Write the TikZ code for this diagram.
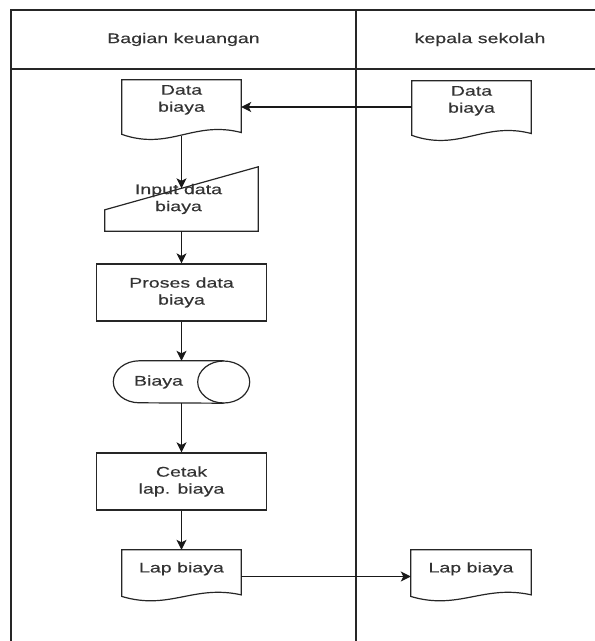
\documentclass[tikz,border=0pt]{standalone}
\usepackage{fontspec}
\setmainfont{Liberation Sans}[FakeStretch=1.4,FakeBold=0.4]
\usetikzlibrary{arrows.meta}

% flowchart document symbol: #1 = node name, #2 = height to lowest point of the wave
\newcommand\docshape[2]{%
  \draw[shapeline] (#1.north west) -- (#1.north east)
    -- ([yshift=-0.85*#2pt]#1.north east)
    .. controls ([xshift=-47.6pt,yshift=-0.65*#2pt]#1.north east)
           and ([xshift=47.6pt,yshift=-1.15*#2pt]#1.north west)
    .. ([yshift=-0.88*#2pt]#1.north west) -- cycle;}

\tikzset{
  shapeline/.style={line width=1.2pt, draw=black!85},
  frameline/.style={line width=1.2pt, draw=black!85},
  box/.style={draw=none, inner sep=0pt},
  lbl/.style={inner sep=0pt, align=center, text=black!80,
    font=\fontsize{14}{17}\selectfont},
  arr/.style={line width=1.3pt, draw=black!90,
    -{Stealth[length=10pt,width=10pt,inset=2.5pt]}},
}

\begin{document}
\begin{tikzpicture}[x=1pt,y=-1pt]
\useasboundingbox (0,0) rectangle (595,641);

% swimlane frame
\coordinate (fnw) at (11,10);
\coordinate (fne) at (610,10);
\coordinate (fsw) at (11,650);
\coordinate (hw) at (11,69);
\coordinate (he) at (610,69);
\coordinate (dt) at (356,10);
\coordinate (db) at (356,650);
\draw[frameline] (fsw) -- (fnw) -- (fne);
\draw[frameline] (hw) -- (he);
\draw[frameline] (dt) -- (db);

\node[lbl] (hl) at (183.5,39.5) {Bagian keuangan};
\node[lbl] (hr) at (480,39.5) {kepala sekolah};

% incoming cost data documents
\node[box, minimum width=119pt, minimum height=62pt] (ld) at (181.5,111) {};
\docshape{ld}{62}
\node[lbl] (ldt) at ([yshift=-20pt]ld.north) {Data\\biaya};

\node[box, minimum width=119pt, minimum height=62pt] (rd) at (471.5,112) {};
\docshape{rd}{62}
\node[lbl] (rdt) at ([yshift=-20pt]rd.north) {Data\\biaya};

% manual input
\node[box, minimum width=153pt, minimum height=64pt] (mi) at (181.5,199) {};
\draw[shapeline] (mi.south west) -- ([yshift=-43pt]mi.north west)
  -- (mi.north east) -- (mi.south east) -- cycle;
\node[lbl] (mit) at ([xshift=-3pt]mi.center) {Input data\\biaya};
\coordinate (mitop) at ([yshift=-21.5pt]mi.north);

% processing
\node[box, shapeline, draw, minimum width=170pt, minimum height=57pt] (pr) at (181.5,292.5) {};
\node[lbl] (prt) at (pr.center) {Proses data\\biaya};

% stored data
\node[box, minimum width=136pt, minimum height=42pt] (st) at (181.5,382) {};
\draw[shapeline] ([xshift=-26pt]st.north east) -- ([xshift=26pt]st.north west)
  arc[start angle=90, end angle=270, x radius=26pt, y radius=21pt]
  -- ([xshift=-26pt]st.south east);
\draw[shapeline] ([xshift=-26pt]st.east) ellipse [x radius=26pt, y radius=21pt];
\node[lbl] (stt) at ([xshift=-23pt]st.center) {Biaya};

% printing
\node[box, shapeline, draw, minimum width=170pt, minimum height=57pt] (ce) at (181.5,481.5) {};
\node[lbl] (cet) at (ce.center) {Cetak\\lap. biaya};

% report documents
\node[box, minimum width=119pt, minimum height=53pt] (lb) at (181.5,576.5) {};
\docshape{lb}{53}
\node[lbl] (lbt) at ([yshift=-19pt]lb.north) {Lap biaya};

\node[box, minimum width=120pt, minimum height=53pt] (rlb) at (471,576.5) {};
\docshape{rlb}{53}
\node[lbl] (rlbt) at ([yshift=-19pt]rlb.north) {Lap biaya};

% connectors
\draw[arr] ([yshift=5pt]rd.west) -- ([yshift=5pt]rd.west -| ld.east);
\draw[arr] ([yshift=-56pt]ld.north) -- (mitop);
\draw[arr] (mi.south) -- (pr.north);
\draw[arr] (pr.south) -- (st.north);
\draw[arr] (st.south) -- (ce.north);
\draw[arr] (ce.south) -- (lb.north);
\draw[arr] (lb.east) -- (rlb.west);
\end{tikzpicture}
\end{document}
